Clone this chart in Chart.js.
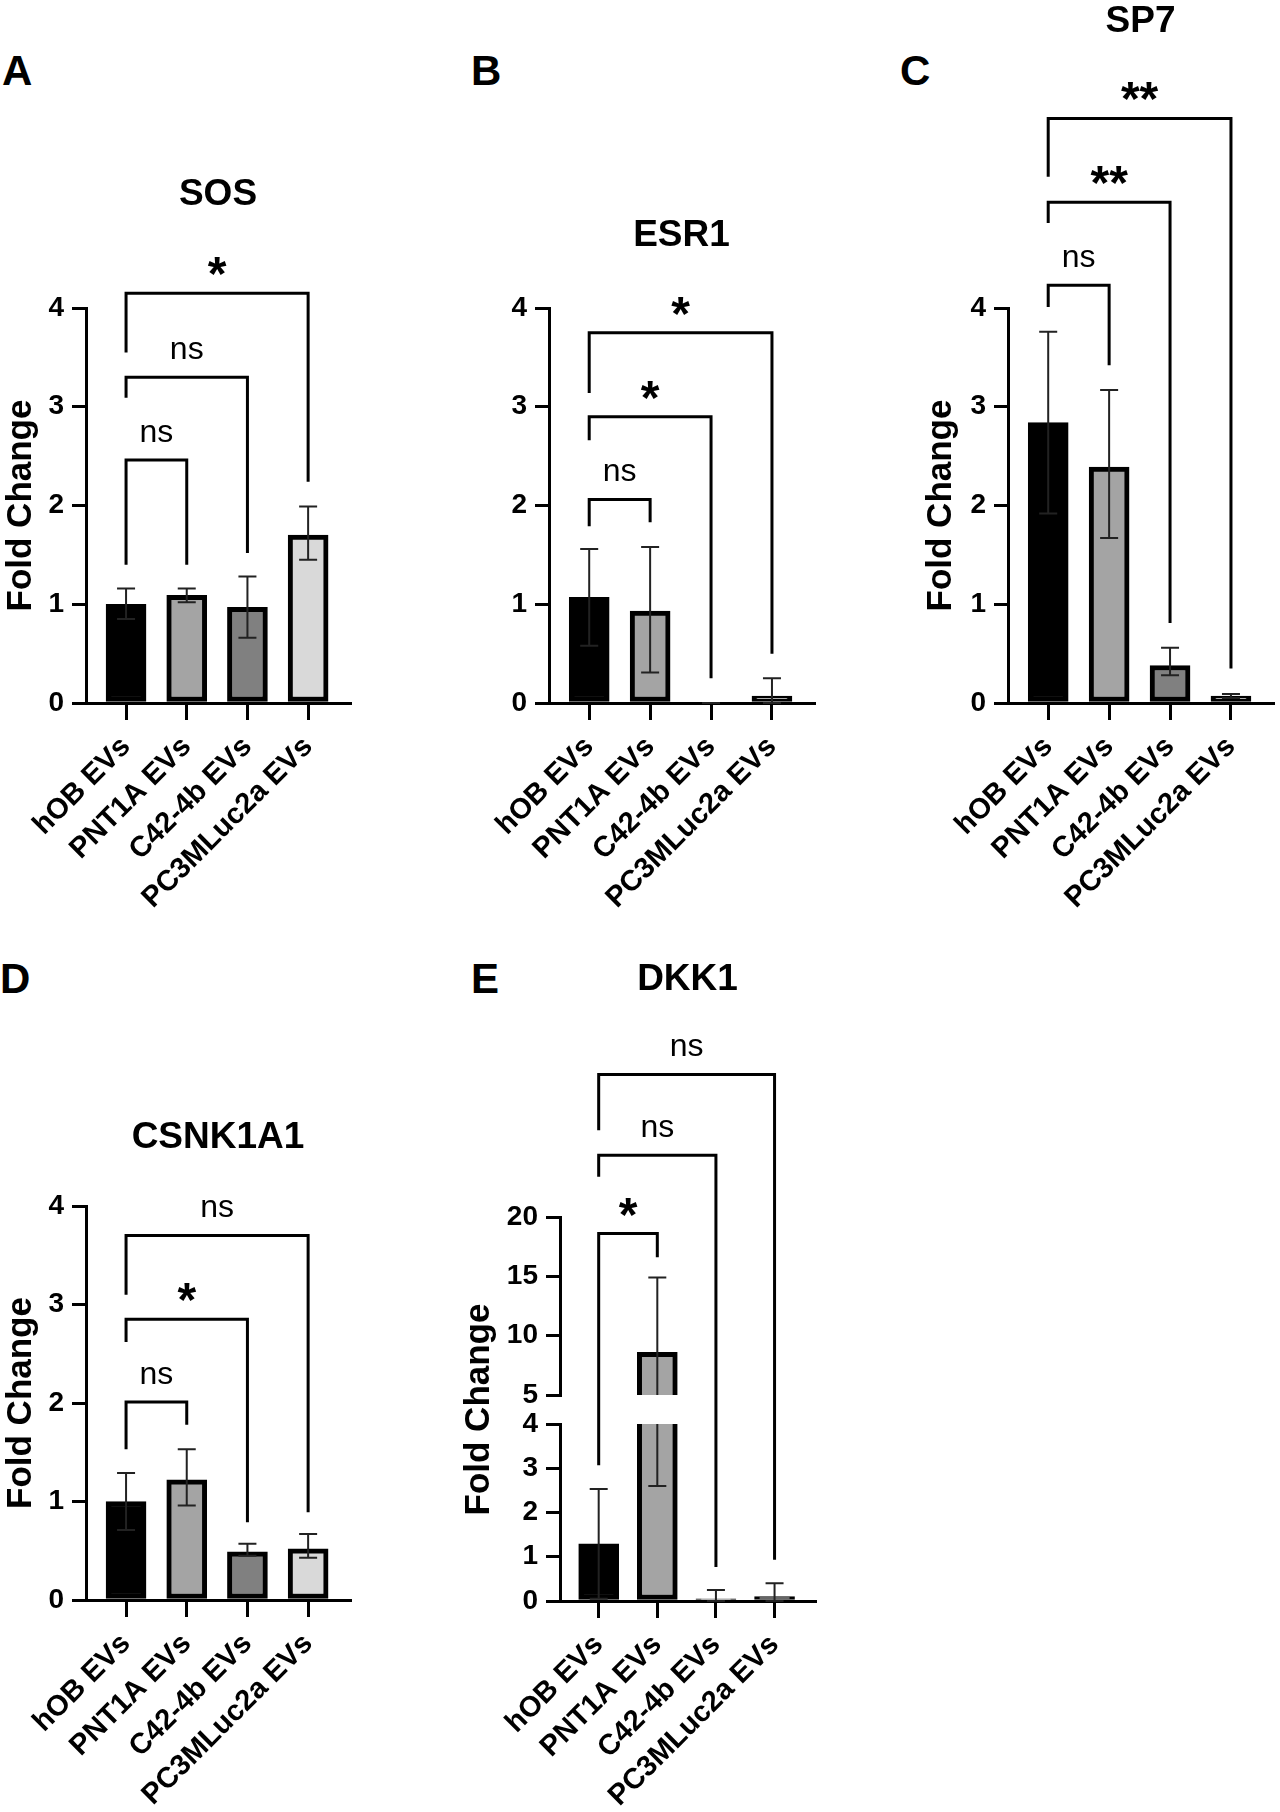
<!DOCTYPE html>
<html>
<head>
<meta charset="utf-8">
<script src="https://cdn.jsdelivr.net/npm/chart.js@4.4.1/dist/chart.umd.min.js"></script>
<style>
  html,body{margin:0;padding:0;background:#fff;}
  #fig{position:relative;width:1280px;height:1812px;overflow:hidden;font-family:'Liberation Sans',Arial,sans-serif;}
  #fig canvas{position:absolute;}
  .lbl{position:absolute;font-weight:bold;font-size:42px;line-height:42px;color:#000;}
</style>
</head>
<body>
<div id="fig">
  <div class="lbl" style="left:2px;top:50px">A</div>
  <div class="lbl" style="left:471px;top:50px">B</div>
  <div class="lbl" style="left:900px;top:50px">C</div>
  <div class="lbl" style="left:0px;top:958px">D</div>
  <div class="lbl" style="left:471px;top:958px">E</div>
  <canvas id="cA" width="427" height="910" style="left:0;top:0"></canvas>
  <canvas id="cB" width="427" height="910" style="left:427px;top:0"></canvas>
  <canvas id="cC" width="426" height="910" style="left:854px;top:0"></canvas>
  <canvas id="cD" width="427" height="907" style="left:0;top:905px"></canvas>
  <canvas id="cE" width="427" height="907" style="left:427px;top:905px"></canvas>
</div>
<script>
/* fold change per group */
const groups = ['hOB EVs', 'PNT1A EVs', 'C42-4b EVs', 'PC3MLuc2a EVs'];

const sosMean = [1.00, 1.09, 0.97, 1.70];
const sosHi   = [1.16, 1.16, 1.28, 1.99];
const sosLo   = [0.85, 1.02, 0.66, 1.45];

const esr1Mean = [1.07, 0.93, 0.00, 0.07];
const esr1Hi   = [1.56, 1.58, 0.00, 0.25];
const esr1Lo   = [0.58, 0.31, 0.00, 0.00];

const sp7Mean = [2.84, 2.39, 0.38, 0.07];
const sp7Hi   = [3.76, 3.17, 0.56, 0.09];
const sp7Lo   = [1.92, 1.67, 0.28, 0.05];

const csnkMean = [1.00, 1.22, 0.49, 0.52];
const csnkHi   = [1.29, 1.53, 0.57, 0.67];
const csnkLo   = [0.71, 0.96, 0.45, 0.43];

const dkk1Mean = [1.29, 8.6, 0.05, 0.10];
const dkk1Hi   = [2.53, 14.9, 0.25, 0.40];
const dkk1Lo   = [0.05, 2.6, 0.00, 0.00];

/* significance brackets: groups a-b, bracket top, leg ends, label */
const sosSig  = [{a:0,b:1,top:2.46,la:1.40,lb:1.40,t:'ns'},{a:0,b:2,top:3.30,la:3.09,lb:1.52,t:'ns'},{a:0,b:3,top:4.15,la:3.55,lb:2.24,t:'*'}];
const esr1Sig = [{a:0,b:1,top:2.06,la:1.79,lb:1.83,t:'ns'},{a:0,b:2,top:2.90,la:2.66,lb:0.25,t:'*'},{a:0,b:3,top:3.75,la:3.14,lb:0.50,t:'*'}];
const sp7Sig  = [{a:0,b:1,top:4.23,la:4.01,lb:3.42,t:'ns'},{a:0,b:2,top:5.07,la:4.86,lb:0.81,t:'**'},{a:0,b:3,top:5.92,la:5.33,lb:0.35,t:'**'}];
const csnkSig = [{a:0,b:1,top:2.01,la:1.53,lb:1.78,t:'ns'},{a:0,b:2,top:2.85,la:2.62,lb:0.79,t:'*'},{a:0,b:3,top:3.70,la:3.10,lb:0.89,t:'ns'}];
const dkk1Sig = [{a:0,b:1,top:18.6,la:3.07,lb:16.6,t:'*'},{a:0,b:2,top:25.2,la:23.4,lb:0.77,t:'ns'},{a:0,b:3,top:32.0,la:27.3,lb:0.93,t:'ns'}];

const fills = ['#000000', '#a4a4a4', '#808080', '#d9d9d9'];
const FONT = "'Liberation Sans', Arial, sans-serif";
Chart.defaults.font.family = FONT;
Chart.defaults.color = '#000';

const axisGrid = len => ({drawOnChartArea:false, offset:false, tickLength:len, lineWidth:3, color:'#000'});
const axisBorder = {width:3, color:'#000'};
const tickFont = {size:28, weight:'bold'};
const barStyle = {backgroundColor:fills, borderColor:'#000', borderWidth:5, borderSkipped:false, barThickness:40};

function errPlugin(lo, hi, clips){
  return {id:'errbars', afterDatasetsDraw(chart){
    const ctx=chart.ctx, x=chart.scales.x;
    for(const c of clips){
      const s=chart.scales[c.id];
      ctx.save();
      if(c.clip){ctx.beginPath();ctx.rect(0,s.top-c.clip[0],chart.width,s.bottom-s.top+c.clip[0]+c.clip[1]);ctx.clip();}
      ctx.strokeStyle='#222';ctx.lineWidth=2;
      groups.forEach((g,i)=>{
        const px=x.getPixelForValue(i), y1=s.getPixelForValue(lo[i]), y2=s.getPixelForValue(hi[i]);
        ctx.beginPath();
        ctx.moveTo(px,y1);ctx.lineTo(px,y2);
        ctx.moveTo(px-9,y1);ctx.lineTo(px+9,y1);
        ctx.moveTo(px-9,y2);ctx.lineTo(px+9,y2);
        ctx.stroke();
      });
      ctx.restore();
    }
  }};
}

function sigPlugin(items, ypix){
  return {id:'brackets', afterDraw(chart){
    const ctx=chart.ctx, x=chart.scales.x;
    ctx.save();
    ctx.strokeStyle='#000';ctx.fillStyle='#000';ctx.lineWidth=3;ctx.lineJoin='miter';
    for(const b of items){
      const xa=x.getPixelForValue(b.a), xb=x.getPixelForValue(b.b), yt=ypix(chart,b.top);
      ctx.beginPath();
      ctx.moveTo(xa,ypix(chart,b.la));ctx.lineTo(xa,yt);ctx.lineTo(xb,yt);ctx.lineTo(xb,ypix(chart,b.lb));
      ctx.stroke();
      ctx.font = b.t.includes('*') ? 'bold 48px '+FONT : '32px '+FONT;
      ctx.textAlign='center';ctx.textBaseline='alphabetic';
      const m=ctx.measureText(b.t), cy=yt-27;
      ctx.fillText(b.t,(xa+xb)/2,cy+(m.actualBoundingBoxAscent-m.actualBoundingBoxDescent)/2);
    }
    ctx.restore();
  }};
}

function xScale(h){
  return {
    type:'linear', min:-0.66, max:3.69, offset:false,
    afterBuildTicks:s=>{s.ticks=groups.map((g,i)=>({value:i}));},
    afterFit:s=>{s.height=h;},
    border:axisBorder, grid:axisGrid(17),
    ticks:{autoSkip:false,minRotation:45,maxRotation:45,padding:10,font:{size:29,weight:'bold'},callback:v=>groups[v]}
  };
}

function yTitle(show,pad){
  return {display:show,text:'Fold Change',font:{size:35,weight:'bold',lineHeight:1.2},padding:{top:pad,bottom:0}};
}

function panel(id, o){
  new Chart(document.getElementById(id),{
    type:'bar',
    data:{datasets:[Object.assign({data:o.mean.map((v,i)=>({x:i,y:v}))}, barStyle)]},
    options:{
      responsive:false, animation:false, events:[],
      layout:{padding:{left:0,right:o.rp,top:0,bottom:0}},
      plugins:{
        legend:{display:false}, tooltip:{enabled:false},
        title:{display:true,text:o.title,fullSize:false,color:'#000',font:{size:37,weight:'bold',lineHeight:1.2},padding:{top:o.tt,bottom:o.tb}}
      },
      scales:{
        x:xScale(o.xh),
        y:{min:0,max:4,ticks:{stepSize:1,padding:8,font:tickFont},border:axisBorder,grid:axisGrid(14),
           afterFit:s=>{s.width=o.yw;},title:yTitle(o.ytitle,o.ytp)}
      }
    },
    plugins:[errPlugin(o.lo,o.hi,[{id:'y'}]), sigPlugin(o.sig,(c,v)=>c.scales.y.getPixelForValue(v))]
  });
}

panel('cA',{title:'SOS',mean:sosMean,hi:sosHi,lo:sosLo,sig:sosSig,tt:173,tb:90.6,xh:207,yw:86,rp:77,ytitle:true,ytp:0});
panel('cB',{title:'ESR1',mean:esr1Mean,hi:esr1Hi,lo:esr1Lo,sig:esr1Sig,tt:214,tb:49.6,xh:207,yw:122,rp:40,ytitle:false,ytp:0});
panel('cC',{title:'SP7',mean:sp7Mean,hi:sp7Hi,lo:sp7Lo,sig:sp7Sig,tt:0,tb:263.6,xh:207,yw:154,rp:7,ytitle:true,ytp:66});
panel('cD',{title:'CSNK1A1',mean:csnkMean,hi:csnkHi,lo:csnkLo,sig:csnkSig,tt:211,tb:45.6,xh:212,yw:86,rp:77,ytitle:true,ytp:0});

/* DKK1: broken y axis, 0-4 below and 5-20 above; each dataset is clipped to its own axis */
const upW=178, gapW=29, lowW=177;
new Chart(document.getElementById('cE'),{
  type:'bar',
  data:{datasets:[
    Object.assign({data:dkk1Mean.map((v,i)=>({x:i,y:v})),yAxisID:'yLow',grouped:false,clip:{left:10,right:10,top:0,bottom:10}}, barStyle),
    Object.assign({data:dkk1Mean.map((v,i)=>({x:i,y:v})),yAxisID:'yHigh',grouped:false,clip:{left:10,right:10,top:10,bottom:0}}, barStyle)
  ]},
  options:{
    responsive:false, animation:false, events:[],
    layout:{padding:{left:0,right:39,top:0,bottom:0}},
    plugins:{
      legend:{display:false}, tooltip:{enabled:false},
      title:{display:true,text:'DKK1',fullSize:false,color:'#000',font:{size:37,weight:'bold',lineHeight:1.2},padding:{top:53,bottom:214.6}}
    },
    scales:{
      x:xScale(211),
      yHigh:{type:'linear',position:'left',stack:'dkk',stackWeight:upW,weight:2,min:5,max:20,
        ticks:{stepSize:5,padding:8,font:tickFont},border:axisBorder,grid:axisGrid(14),afterFit:s=>{s.width=133;}},
      yGap:{type:'linear',position:'left',stack:'dkk',stackWeight:gapW,weight:1,
        ticks:{display:false},border:{display:false},grid:{display:false},afterFit:s=>{s.width=133;},title:yTitle(true,31)},
      yLow:{type:'linear',position:'left',stack:'dkk',stackWeight:lowW,weight:0,min:0,max:4,
        ticks:{stepSize:1,padding:8,font:tickFont},border:axisBorder,grid:axisGrid(14),afterFit:s=>{s.width=133;}}
    }
  },
  plugins:[
    errPlugin(dkk1Lo,dkk1Hi,[{id:'yHigh',clip:[20,0]},{id:'yLow',clip:[0,20]}]),
    sigPlugin(dkk1Sig,(c,v)=>(v>4.5?c.scales.yHigh:c.scales.yLow).getPixelForValue(v))
  ]
});
</script>
</body>
</html>
